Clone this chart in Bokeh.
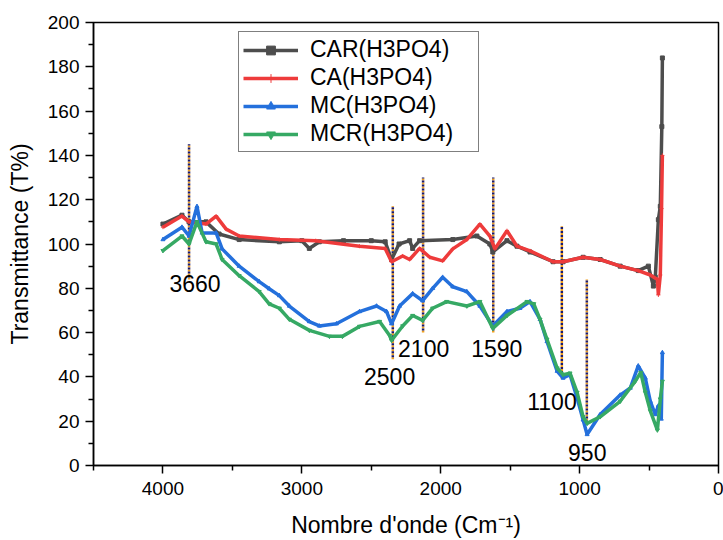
from bokeh.plotting import figure
from bokeh.models import Range1d, FixedTicker, Legend, LegendItem, ColumnDataSource
from bokeh.core.properties import value
from bokeh.embed import file_html
from bokeh.resources import INLINE

# ---------------- data ----------------
series_names = ["CAR(H3PO4)", "CA(H3PO4)", "MC(H3PO4)", "MCR(H3PO4)"]

car_x = [4000, 3863, 3812, 3690, 3596, 3451, 3162, 3000, 2946, 2874, 2700, 2500, 2400, 2354, 2300,
         2224, 2202, 2152, 1913, 1740, 1646, 1625, 1523, 1451, 1357, 1191, 1119, 975, 852, 708,
         578, 505, 469, 455, 433, 419, 408, 404]
car_y = [109, 113, 110, 110, 104.5, 102, 101, 101.5, 98, 101, 101.5, 101.5, 101, 93, 100,
         101.5, 98, 101.5, 102, 103.6, 100, 96.4, 101.5, 99, 96.4, 92, 92, 94, 93, 90,
         88, 90, 81, 85, 111, 117, 153, 184]

ca_x = [4000, 3863, 3812, 3690, 3617, 3545, 3451, 3162, 2900, 2585, 2400, 2354, 2274, 2224, 2152,
        2079, 1986, 1913, 1812, 1718, 1646, 1610, 1523, 1451, 1357, 1191, 1119, 975, 852, 708,
        578, 491, 440, 433, 419, 410, 404]
ca_y = [107.6, 112.6, 110, 109, 112.6, 106.7, 103.6, 102, 101.5, 99, 98, 92, 94.6, 93, 98,
        94, 92.4, 97.8, 102, 109, 103.6, 97.8, 106, 99, 96.9, 92, 92, 94, 93, 90,
        88, 86, 84, 77, 86, 116, 140]

mc_x = [4000, 3863, 3812, 3755, 3718, 3617, 3574, 3451, 3307, 3235, 3162, 3090, 2946, 2874, 2751,
        2585, 2462, 2390, 2354, 2296, 2202, 2130, 2058, 1986, 1913, 1812, 1718, 1625, 1523, 1430,
        1357, 1285, 1235, 1162, 1119, 1069, 1018, 975, 946, 852, 708, 635, 578, 527, 491,
        455, 433, 412, 404]
mc_y = [102, 107.6, 103.6, 117, 105, 105, 97.8, 90, 83, 79.8, 76.7, 72, 65, 63, 64,
        69.5, 72, 69.5, 64, 72, 77.6, 74.4, 80, 85, 80.7, 78.5, 72, 63, 69.5, 71,
        74, 66, 56, 42.6, 39.5, 41, 30.5, 20.6, 14, 23, 31.8, 35, 45, 39.5, 29,
        23, 27, 21, 51]

mcr_x = [4000, 3863, 3812, 3755, 3690, 3617, 3574, 3451, 3307, 3235, 3162, 3090, 2946, 2801, 2708,
         2585, 2440, 2368, 2354, 2274, 2202, 2130, 2058, 1957, 1812, 1718, 1625, 1523, 1379, 1330,
         1285, 1235, 1162, 1119, 1069, 1018, 975, 946, 852, 708, 600, 560, 527, 491, 440,
         419, 404]
mcr_y = [97, 103.6, 100, 110, 101, 100, 93, 85.7, 78.5, 73, 71, 66, 61, 58.3, 58.3,
         62.8, 65, 58.7, 56.5, 63, 67.7, 65.5, 71, 74, 72, 74, 61.9, 67.7, 74, 73,
         66, 57, 44, 41, 41.7, 33, 22, 19, 22, 29, 38, 42, 33, 24.7, 16,
         30, 38]

# band annotations
band_labels = ["3660", "2500", "2100", "1590", "1100", "950"]
band_line_x = [3812, 2345, 2127, 1622, 1128, 948]
band_line_top = [145, 117, 130, 130, 108, 84]
band_line_bottom = [84, 48, 60, 60, 39, 18.5]
band_text_x = [3769, 2368, 2123, 1596, 1199, 945]
band_text_y = [82, 40, 53, 53, 29, 6]

x_ticks = [0, 1000, 2000, 3000, 4000]
x_minor = [500, 1500, 2500, 3500, 4500]
y_ticks = list(range(0, 201, 20))
y_minor = list(range(10, 200, 20))

colors = ["#4d4d4d", "#ee3b3b", "#2470dc", "#36a964"]
markers = ["square", "cross", "triangle", "inverted_triangle"]

FONT = "Liberation Sans"

p = figure(width=723, height=540, output_backend="svg", toolbar_location=None,
           x_range=Range1d(4500, 0), y_range=Range1d(0, 200),
           min_border_left=93, min_border_right=5, min_border_top=22, min_border_bottom=72)

p.xgrid.visible = False
p.ygrid.visible = False
p.outline_line_color = "black"
p.outline_line_width = 1.5
p.outline_line_alpha = 1.0
p.background_fill_color = "white"
p.border_fill_color = "white"

for ax in (p.xaxis[0], p.yaxis[0]):
    ax.axis_line_width = 1.5
    ax.axis_line_color = "black"
    ax.major_tick_in = 0
    ax.major_tick_out = 8
    ax.minor_tick_in = 0
    ax.minor_tick_out = 5
    ax.major_tick_line_width = 1.5
    ax.minor_tick_line_width = 1.5
    ax.major_label_text_font = FONT
    ax.major_label_text_font_size = "19px"
    ax.major_label_text_color = "black"
    ax.axis_label_text_font = FONT
    ax.axis_label_text_font_style = "normal"
    ax.axis_label_text_font_size = "23px"
    ax.axis_label_text_color = "black"

p.xaxis.ticker = FixedTicker(ticks=x_ticks, minor_ticks=x_minor)
p.yaxis.ticker = FixedTicker(ticks=y_ticks, minor_ticks=y_minor)
p.xaxis.major_label_standoff = 8
p.yaxis.major_label_standoff = 6
p.xaxis.axis_label = "Nombre d'onde (Cm\u207b\u00b9)"
p.yaxis.axis_label = "Transmittance (T%)"
p.xaxis.axis_label_standoff = 14
p.yaxis.axis_label_standoff = 12

# band marker lines (two-colour dotted)
band_src = ColumnDataSource(dict(x=band_line_x, y0=band_line_bottom, y1=band_line_top))
p.segment(x0="x", y0="y0", x1="x", y1="y1", source=band_src,
          line_color="#f0a020", line_width=2.5, line_dash="2 2")
p.segment(x0="x", y0="y0", x1="x", y1="y1", source=band_src,
          line_color="#1a1a6e", line_width=2.5, line_dash="2 2", line_dash_offset=2)

items = []
all_x = [car_x, ca_x, mc_x, mcr_x]
all_y = [car_y, ca_y, mc_y, mcr_y]
for name, xs, ys, c, m in zip(series_names, all_x, all_y, colors, markers):
    src = ColumnDataSource(dict(x=xs, y=ys))
    ln = p.line("x", "y", source=src, line_color=c, line_width=3.5)
    sc = p.scatter("x", "y", source=src, marker=m, size=4, line_color=c, fill_color=c)
    items.append(LegendItem(label=name, renderers=[ln, sc]))

txt_src = ColumnDataSource(dict(x=band_text_x, y=band_text_y, t=band_labels))
p.text(x="x", y="y", text="t", source=txt_src, text_font=value(FONT),
       text_font_size="23px", text_align="center", text_baseline="middle", text_color="black")

legend = Legend(items=items, location=(145, 313))
legend.label_text_font = FONT
legend.label_text_font_size = "23px"
legend.label_text_color = "black"
legend.border_line_color = "black"
legend.border_line_width = 1.5
legend.background_fill_alpha = 1.0
legend.glyph_width = 55
legend.glyph_height = 22
legend.label_height = 22
legend.label_width = 164
legend.label_standoff = 12
legend.spacing = 1
legend.padding = 4
legend.margin = 0
p.add_layout(legend, "center")

open("out.html", "w").write(file_html(p, INLINE))
